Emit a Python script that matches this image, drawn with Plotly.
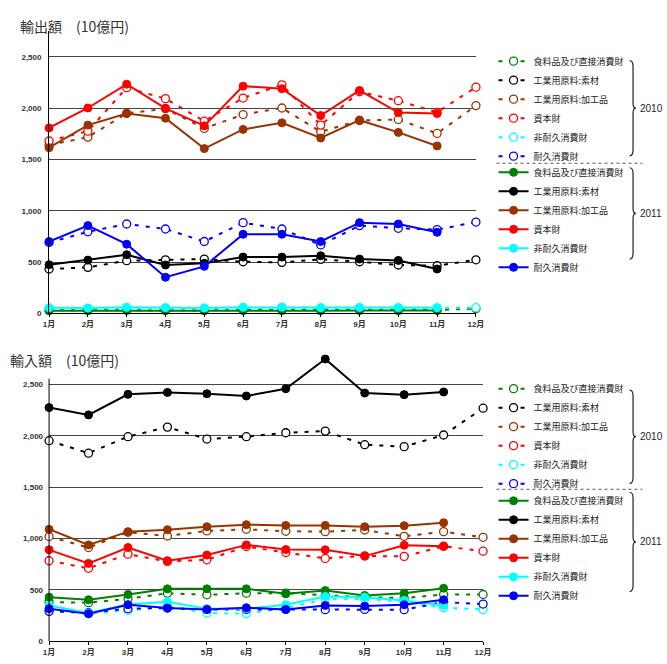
import plotly.graph_objects as go

# ---------------- data ----------------
months = ["1月", "2月", "3月", "4月", "5月", "6月", "7月", "8月", "9月", "10月", "11月", "12月"]
series_names = ["食料品及び直接消費財", "工業用原料:素材", "工業用原料:加工品", "資本財", "非耐久消費財", "耐久消費財"]
series_colors = ["#008000", "#000000", "#993300", "#ff0000", "#00ffff", "#0000ff"]
y_ticks = [0, 500, 1000, 1500, 2000, 2500]

# 輸出額 (10億円)
exp_2010_food = [30, 28, 32, 30, 28, 32, 33, 30, 32, 30, 33, 45]
exp_2010_material = [432, 448, 513, 522, 529, 503, 497, 526, 503, 471, 464, 522]
exp_2010_processed = [1640, 1718, 1950, 1995, 1803, 1938, 2002, 1770, 1880, 1890, 1754, 2025]
exp_2010_capital = [1680, 1776, 2200, 2093, 1873, 2099, 2228, 1835, 2160, 2073, 1960, 2205]
exp_2010_nondurable = [50, 48, 55, 52, 50, 55, 57, 52, 55, 53, 52, 55]
exp_2010_durable = [690, 795, 871, 822, 700, 884, 822, 667, 855, 829, 816, 890]

exp_2011_food = [25, 24, 27, 26, 24, 27, 26, 25, 27, 26, 27, None]
exp_2011_material = [474, 519, 571, 471, 487, 548, 548, 561, 529, 516, 432, None]
exp_2011_processed = [1615, 1835, 1948, 1902, 1606, 1793, 1857, 1709, 1883, 1764, 1632, None]
exp_2011_capital = [1808, 2002, 2234, 1999, 1828, 2215, 2190, 1928, 2173, 1957, 1948, None]
exp_2011_nondurable = [55, 52, 58, 55, 52, 58, 60, 55, 57, 56, 55, None]
exp_2011_durable = [700, 855, 674, 352, 458, 771, 771, 700, 884, 871, 790, None]

# 輸入額 (10億円)
imp_2010_food = [380, 375, 412, 467, 451, 467, 467, 445, 428, 419, 454, 454]
imp_2010_material = [1952, 1830, 1991, 2084, 1968, 1991, 2029, 2045, 1913, 1894, 2007, 2268]
imp_2010_processed = [1018, 911, 1060, 1024, 1073, 1089, 1070, 1066, 1082, 1021, 1066, 1011]
imp_2010_capital = [783, 709, 847, 776, 792, 921, 863, 805, 830, 825, 924, 876]
imp_2010_nondurable = [300, 267, 300, 335, 274, 267, 325, 406, 412, 383, 325, 309]
imp_2010_durable = [290, 277, 316, 322, 309, 309, 309, 306, 309, 306, 380, 361]

imp_2011_food = [428, 403, 454, 509, 509, 509, 461, 493, 445, 467, 515, None]
imp_2011_material = [2274, 2203, 2403, 2422, 2409, 2387, 2458, 2747, 2416, 2400, 2426, None]
imp_2011_processed = [1089, 937, 1066, 1085, 1114, 1134, 1127, 1127, 1114, 1124, 1153, None]
imp_2011_capital = [889, 757, 911, 783, 838, 937, 892, 889, 828, 934, 924, None]
imp_2011_nondurable = [348, 274, 357, 383, 316, 316, 354, 435, 428, 396, 348, None]
imp_2011_durable = [316, 267, 354, 322, 309, 325, 309, 348, 341, 354, 403, None]

exp_2010 = [exp_2010_food, exp_2010_material, exp_2010_processed, exp_2010_capital, exp_2010_nondurable, exp_2010_durable]
exp_2011 = [exp_2011_food, exp_2011_material, exp_2011_processed, exp_2011_capital, exp_2011_nondurable, exp_2011_durable]
imp_2010 = [imp_2010_food, imp_2010_material, imp_2010_processed, imp_2010_capital, imp_2010_nondurable, imp_2010_durable]
imp_2011 = [imp_2011_food, imp_2011_material, imp_2011_processed, imp_2011_capital, imp_2011_nondurable, imp_2011_durable]

# ---------------- layout helpers ----------------
W, H = 667, 664
def px(x):
    return x / W
def py(y):
    return 1 - y / H

JP = "Noto Sans CJK JP, sans-serif"
TICKFONT = dict(family="Liberation Sans, Arial, Noto Sans CJK JP", size=8, color="#333", weight="bold")

fig = go.Figure()

def add_year(data, xa, ya, legend, dashed):
    for name, color, vals in zip(series_names, series_colors, data):
        if dashed:
            marker = dict(symbol="circle", size=8, color="white", line=dict(color=color, width=1.3))
            line = dict(color=color, width=2, dash="4px,7px")
        else:
            marker = dict(symbol="circle", size=8, color=color, line=dict(color=color, width=1))
            line = dict(color=color, width=2)
        fig.add_trace(go.Scatter(
            x=months, y=vals, name=name, mode="lines+markers",
            line=line, marker=marker, xaxis=xa, yaxis=ya, legend=legend,
            cliponaxis=False, connectgaps=False,
        ))

add_year(exp_2010, "x", "y", "legend", True)
add_year(exp_2011, "x", "y", "legend2", False)
add_year(imp_2010, "x2", "y2", "legend3", True)
add_year(imp_2011, "x2", "y2", "legend4", False)

xcommon = dict(type="category", categoryorder="array", categoryarray=months, range=[0, 11],
               showline=True, linecolor="black", linewidth=1, ticks="outside", ticklen=3,
               tickcolor="black", tickfont=TICKFONT, showgrid=False, zeroline=False, fixedrange=True)
ycommon = dict(tickvals=y_ticks, tickformat=",", showgrid=True, gridcolor="#444", gridwidth=1,
               zeroline=False, tickfont=TICKFONT, ticks="", ticklabelstandoff=5, fixedrange=True)

legend_common = dict(xanchor="left", yanchor="top", bgcolor="rgba(0,0,0,0)",
                     font=dict(family=JP, size=9, color="#222"), itemwidth=30,
                     tracegroupgap=0, traceorder="normal", borderwidth=0)

LEG_X = 498
fig.update_layout(
    width=W, height=H, margin=dict(l=0, r=0, t=0, b=0),
    paper_bgcolor="white", plot_bgcolor="white", showlegend=True,
    xaxis=dict(xcommon, domain=[px(44), px(480)], anchor="y"),
    yaxis=dict(ycommon, domain=[py(315.7), py(31.5)], range=[0, 2750], anchor="x",
               showline=True, linecolor="black", linewidth=1),
    xaxis2=dict(xcommon, domain=[px(44), px(487.3)], anchor="y2"),
    yaxis2=dict(ycommon, domain=[py(646), py(360.4)], range=[0, 2760], anchor="x2", showline=False),
    legend=dict(legend_common, x=px(LEG_X), y=py(47)),
    legend2=dict(legend_common, x=px(LEG_X), y=py(159)),
    legend3=dict(legend_common, x=px(LEG_X), y=py(377)),
    legend4=dict(legend_common, x=px(LEG_X), y=py(490)),
)

shapes = []
# y-axis line of the lower chart (stops below the top of the plot area)
shapes.append(dict(type="line", xref="x2 domain", yref="y2", x0=0, x1=0, y0=0, y1=2555,
                   line=dict(color="black", width=1)))

def brace(x, yt, yb, w=3.5, tip=6.5):
    ym = (yt + yb) / 2
    pts = [
        ("M", [(x, yt)]),
        ("Q", [(x + w, yt), (x + w, yt + 6)]),
        ("L", [(x + w, ym - 5)]),
        ("Q", [(x + w, ym), (x + tip, ym)]),
        ("Q", [(x + w, ym), (x + w, ym + 5)]),
        ("L", [(x + w, yb - 6)]),
        ("Q", [(x + w, yb), (x, yb)]),
    ]
    s = ""
    for cmd, ps in pts:
        s += cmd + " ".join(f"{px(a):.5f},{py(b):.5f}" for a, b in ps) + " "
    return dict(type="path", xref="paper", yref="paper", path=s.strip(),
                line=dict(color="#222", width=1.2))

shapes += [brace(637, 61, 157), brace(637, 169, 261), brace(637, 393, 487), brace(637, 496, 596)]
for ysep in (164.5, 493):
    shapes.append(dict(type="line", xref="paper", yref="paper", x0=px(501), x1=px(650),
                       y0=py(ysep), y1=py(ysep), line=dict(color="#555", width=1, dash="dot")))
fig.update_layout(shapes=shapes)

annotations = [
    dict(text="輸出額　(10億円)", x=px(12), y=py(26.5), xref="paper", yref="paper",
         xanchor="left", yanchor="middle", showarrow=False, font=dict(family=JP, size=14, color="#333")),
    dict(text="輸入額　(10億円)", x=px(2), y=py(363), xref="paper", yref="paper",
         xanchor="left", yanchor="middle", showarrow=False, font=dict(family=JP, size=14, color="#333")),
]
for label, ymid in (("2010", 109), ("2011", 215), ("2010", 440), ("2011", 546)):
    annotations.append(dict(text=label, x=px(646), y=py(ymid), xref="paper", yref="paper",
                            xanchor="left", yanchor="middle", showarrow=False,
                            font=dict(family="Liberation Sans, Arial", size=10, color="#222")))
fig.update_layout(annotations=annotations)

# remove the browser's default 8px page margin so the 667x664 figure fills the window exactly
fig.write_html("out.html", config={"displayModeBar": False},
               post_script="document.body.style.margin='0';document.body.style.overflow='hidden';")
